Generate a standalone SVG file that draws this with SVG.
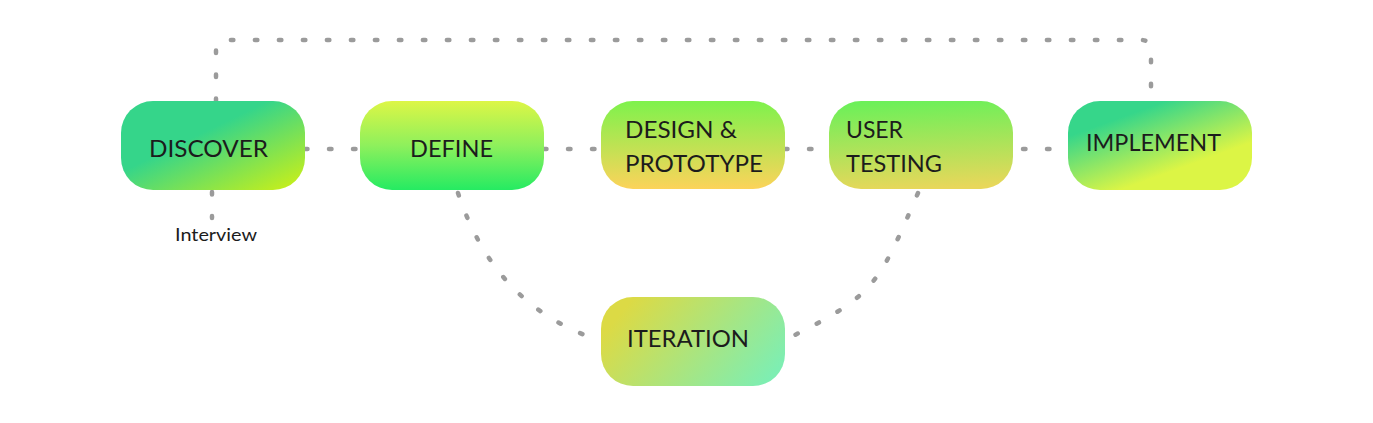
<svg xmlns="http://www.w3.org/2000/svg" width="1373" height="423" viewBox="0 0 1373 423">
<style>
.c{fill:none;stroke:#9b9b9b;stroke-width:4.5;stroke-linecap:round;stroke-dasharray:2.5 21.5}
.t{font-family:Lato,"Noto Sans","Liberation Sans",sans-serif;font-size:23px;fill:#1c1c1c}
.s{font-family:Lato,"Noto Sans","Liberation Sans",sans-serif;font-size:17px;fill:#1c1c1c}
</style>
<defs>
<linearGradient id="gDis" x1="0" y1="0" x2="1" y2="1">
<stop offset="0.4" stop-color="#35d58a"/><stop offset="1" stop-color="#d2f112"/>
</linearGradient>
<linearGradient id="gDef" x1="0" y1="0" x2="0" y2="1">
<stop offset="0" stop-color="#ddf646"/><stop offset="0.5" stop-color="#8ef05c"/><stop offset="1" stop-color="#25eb62"/>
</linearGradient>
<linearGradient id="gDes" x1="0" y1="0" x2="0" y2="1">
<stop offset="0" stop-color="#7ef24c"/><stop offset="1" stop-color="#fcd35a"/>
</linearGradient>
<linearGradient id="gUse" x1="0.4" y1="0" x2="0.5" y2="1">
<stop offset="0" stop-color="#6cf059"/><stop offset="1" stop-color="#e8d75a"/>
</linearGradient>
<linearGradient id="gImp" x1="0.1" y1="0.2" x2="0.7" y2="1">
<stop offset="0.1" stop-color="#36d68a"/><stop offset="0.75" stop-color="#dcf545"/>
</linearGradient>
<linearGradient id="gIte" x1="0" y1="0.3" x2="1" y2="0.7">
<stop offset="0.05" stop-color="#dcda45"/><stop offset="1" stop-color="#7eeeb2"/>
</linearGradient>
</defs>
<g id="connectors">
<path class="c" d="M216,101 V50 Q216,40 226,40 H1141 Q1151,40 1151,50 V101"/>
<path class="c" d="M212,192 V218"/>
<path class="c" d="M305,149 H360"/>
<path class="c" d="M544,149 H601"/>
<path class="c" d="M785,149 H829"/>
<path class="c" d="M1023,149 H1068"/>
<path class="c" d="M458,193 C482,265 525,316 601,341"/>
<path class="c" d="M918,193 C877,288 875,295 785,340"/>
</g>
<g id="discover">
<rect x="121" y="101" width="184" height="89" rx="32" fill="url(#gDis)"/>
<text class="t" x="149" y="157" textLength="119" lengthAdjust="spacingAndGlyphs">DISCOVER</text>
</g>
<g id="interview">
<text class="s" x="175" y="241" textLength="82" lengthAdjust="spacingAndGlyphs">Interview</text>
</g>
<g id="define">
<rect x="360" y="101" width="184" height="89" rx="32" fill="url(#gDef)"/>
<text class="t" x="410" y="157" textLength="83" lengthAdjust="spacingAndGlyphs">DEFINE</text>
</g>
<g id="design">
<rect x="601" y="101" width="184" height="88" rx="32" fill="url(#gDes)"/>
<text class="t" x="625" y="138" textLength="112" lengthAdjust="spacingAndGlyphs">DESIGN &amp;</text>
<text class="t" x="625" y="172" textLength="138" lengthAdjust="spacingAndGlyphs">PROTOTYPE</text>
</g>
<g id="usertesting">
<rect x="829" y="101" width="184" height="88" rx="32" fill="url(#gUse)"/>
<text class="t" x="846" y="138" textLength="57" lengthAdjust="spacingAndGlyphs">USER</text>
<text class="t" x="846" y="172" textLength="96" lengthAdjust="spacingAndGlyphs">TESTING</text>
</g>
<g id="implement">
<rect x="1068" y="101" width="184" height="89" rx="32" fill="url(#gImp)"/>
<text class="t" x="1086" y="151" textLength="135" lengthAdjust="spacingAndGlyphs">IMPLEMENT</text>
</g>
<g id="iteration">
<rect x="601" y="297" width="184" height="89" rx="32" fill="url(#gIte)"/>
<text class="t" x="627" y="347" textLength="122" lengthAdjust="spacingAndGlyphs">ITERATION</text>
</g>
</svg>
